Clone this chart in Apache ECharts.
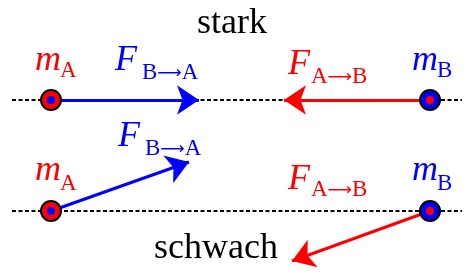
<!DOCTYPE html>
<html>
<head>
<meta charset="utf-8">
<script src="https://cdn.jsdelivr.net/npm/echarts@6/dist/echarts.min.js"></script>
<style>
  html, body { margin: 0; padding: 0; background: #fff; }
  #chart { width: 466px; height: 273px; }
</style>
</head>
<body>
<div id="chart"></div>
<script>
// diagram units = picture pixels, y grows downwards
const rowNames = ['stark', 'schwach']
const rowY = [100, 211]
const lineX = [12, 462]
const massA = [[51, 100], [51, 211]]
const massB = [[430, 100], [430, 211]]
// force ends (tips) for each row
const tipBA = [[199, 100], [189, 162]]
const tipAB = [[284, 100], [292, 261]]
// titles: [centre x, baseline y]
const titlePos = [[232, 36], [216, 261]]
// symbol labels: [text, subscript, colour, x, baseline y, sub x, sub baseline y]
const labels = [
  ['m', 'A', 'red', 35, 73, 60, 79],
  ['F', 'B>A', 'blue', 115, 73, 142, 81],
  ['F', 'A>B', 'red', 288, 77, 311, 85],
  ['m', 'B', 'blue', 412, 73, 437, 79],
  ['F', 'B>A', 'blue', 118, 149, 145, 157],
  ['m', 'A', 'red', 35, 183, 60, 192],
  ['F', 'A>B', 'red', 288, 192, 311, 198],
  ['m', 'B', 'blue', 412, 183, 437, 192]
]

const RED = '#ff0000'
const BLUE = '#0000ff'
const FONT = '"Liberation Serif", "DejaVu Serif", serif'
const mainSize = 36
const subSize = 23

function subText (s) {
  return s.split('>').map(p => '{t|' + p + '}').join('{a|\u27F6}')
}

const textItems = []
labels.forEach(l => {
  const color = l[2] === 'red' ? RED : BLUE
  textItems.push({
    value: [l[3], l[4] - mainSize * 0.34],
    label: { formatter: l[0], color: color, fontSize: mainSize, fontStyle: 'italic' }
  })
  textItems.push({
    value: [l[5], l[6] - subSize * 0.34],
    label: {
      formatter: subText(l[1]),
      color: color,
      fontSize: subSize,
      rich: {
        t: { color: color, fontSize: subSize, fontFamily: FONT },
        a: { color: color, fontSize: 17, fontFamily: '"DejaVu Sans"' }
      }
    }
  })
})
rowNames.forEach((name, i) => {
  textItems.push({
    value: [titlePos[i][0], titlePos[i][1] - mainSize * 0.34],
    label: { formatter: name, color: '#000', fontSize: mainSize, align: 'center' }
  })
})

const chart = echarts.init(document.getElementById('chart'))
chart.setOption({
  backgroundColor: '#fff',
  animation: false,
  grid: { left: 0, right: 0, top: 0, bottom: 0 },
  xAxis: { type: 'value', min: 0, max: 466, show: false },
  yAxis: { type: 'value', min: 0, max: 273, inverse: true, show: false },
  series: [
    {
      type: 'lines',
      coordinateSystem: 'cartesian2d',
      silent: true,
      symbol: 'none',
      lineStyle: { color: '#000', width: 2, type: [4, 2.5], opacity: 1 },
      data: rowY.map(y => ({ coords: [[lineX[0], y], [lineX[1], y]] }))
    },
    {
      type: 'scatter',
      silent: true,
      symbolSize: 20,
      itemStyle: { color: RED, borderColor: '#000', borderWidth: 2, opacity: 1 },
      data: massA
    },
    {
      type: 'scatter',
      silent: true,
      symbolSize: 20,
      itemStyle: { color: BLUE, borderColor: '#000', borderWidth: 2, opacity: 1 },
      data: massB
    },
    {
      type: 'lines',
      coordinateSystem: 'cartesian2d',
      silent: true,
      symbol: ['none', 'arrow'],
      symbolSize: [22, 22],
      lineStyle: { color: BLUE, width: 3, opacity: 1 },
      data: massA.map((p, i) => ({ coords: [p, tipBA[i]] }))
    },
    {
      type: 'lines',
      coordinateSystem: 'cartesian2d',
      silent: true,
      symbol: ['none', 'arrow'],
      symbolSize: [22, 22],
      lineStyle: { color: RED, width: 3, opacity: 1 },
      data: massB.map((p, i) => ({ coords: [p, tipAB[i]] }))
    },
    {
      type: 'scatter',
      silent: true,
      symbolSize: 8,
      itemStyle: { color: BLUE, opacity: 1 },
      data: massA
    },
    {
      type: 'scatter',
      silent: true,
      symbolSize: 8,
      itemStyle: { color: RED, opacity: 1 },
      data: massB
    },
    {
      type: 'scatter',
      silent: true,
      symbolSize: 0,
      itemStyle: { opacity: 1 },
      label: {
        show: true,
        opacity: 1,
        position: [0, 0],
        align: 'left',
        verticalAlign: 'middle',
        fontFamily: FONT
      },
      data: textItems
    }
  ]
})
</script>
</body>
</html>
